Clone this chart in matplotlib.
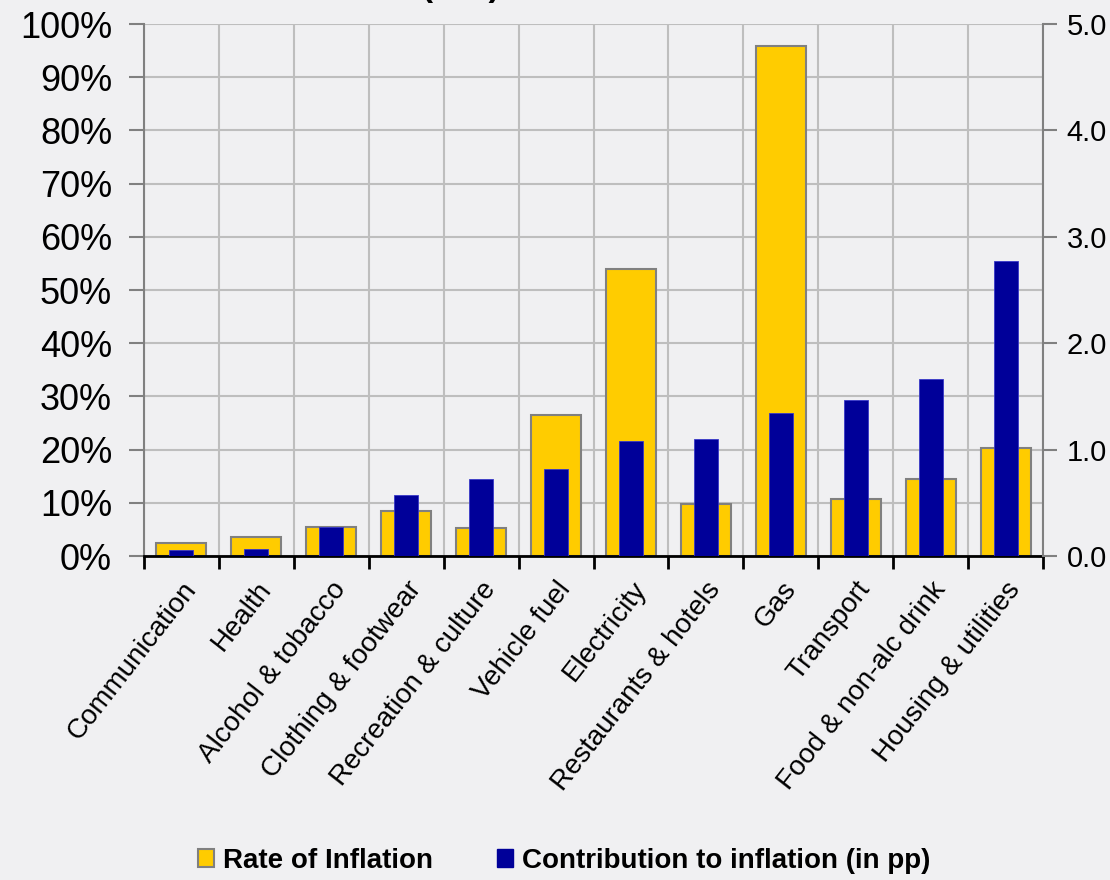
"""
Sector rate of inflation vs contribution to headline CPI inflation.
Twin-axis bar chart: wide yellow bars (rate, left axis) with narrow navy
bars (contribution in pp, right axis) drawn on top.
"""

import matplotlib
matplotlib.use("Agg")
import matplotlib.pyplot as plt
from matplotlib.patches import Patch
from matplotlib.ticker import FuncFormatter
import numpy as np

plt.rcParams.update({
    "font.family": ["Liberation Sans", "DejaVu Sans"],
    "axes.unicode_minus": False,
})

# ================================================================
# Data
# ================================================================
CATEGORIES = [
    "Communication", "Health", "Alcohol & tobacco", "Clothing & footwear",
    "Recreation & culture", "Vehicle fuel", "Electricity",
    "Restaurants & hotels", "Gas", "Transport", "Food & non-alc drink",
    "Housing & utilities",
]
RATE_PCT = [2.4, 3.6, 5.5, 8.5, 5.2, 26.5, 54.0, 9.8, 95.9, 10.7, 14.5, 20.3]
CONTRIB_PP = [0.06, 0.07, 0.27, 0.57, 0.72, 0.82, 1.08, 1.10, 1.34, 1.47, 1.66, 2.77]

LEFT_TICKS = [0, 10, 20, 30, 40, 50, 60, 70, 80, 90, 100]
RIGHT_TICKS = [0.0, 1.0, 2.0, 3.0, 4.0, 5.0]

TITLE = "Annual Rate of Inflation (CPI)"
LEGEND_LABELS = ["Rate of Inflation", "Contribution to inflation (in pp)"]

# ================================================================
# Style
# ================================================================
BG = "#F0F0F2"
YELLOW = "#FFCC00"
NAVY = "#000099"
EDGE = "#808080"
GRID = "#BEBEBE"

fig = plt.figure(figsize=(11.1, 8.8), dpi=100, facecolor=BG)
ax = fig.add_axes([144 / 1110, 1 - 556 / 880, 899 / 1110, 532 / 880])
ax.set_facecolor(BG)
ax2 = ax.twinx()

x = np.arange(len(CATEGORIES))

# yellow rate bars (left axis)
ax.bar(x, RATE_PCT, width=0.667, color=YELLOW, edgecolor=EDGE,
       linewidth=1.5, zorder=2)
# navy contribution bars (right axis)
ax2.bar(x, CONTRIB_PP, width=0.32, color=NAVY, edgecolor="#3838C8",
        linewidth=0.6, zorder=3)

# ---- left axis
ax.set_xlim(-0.5, len(CATEGORIES) - 0.5)
ax.set_ylim(0, 100)
ax.set_yticks(LEFT_TICKS)
ax.yaxis.set_major_formatter(FuncFormatter(lambda v, _: f"{v:.0f}%"))
ax.tick_params(axis="y", labelsize=26, color=EDGE, length=11, width=1.5,
               pad=12, labelcolor="black")

# category boundaries carry the ticks and vertical grid lines
ax.set_xticks(np.arange(-0.5, len(CATEGORIES), 1.0))
ax.set_xticklabels([])
ax.set_xticks(x, minor=True)
ax.set_xticklabels(CATEGORIES, minor=True, rotation=52, ha="right",
                   rotation_mode="anchor", fontsize=20)
ax.tick_params(axis="x", which="major", length=9, width=2, color="black",
               direction="out")
ax.tick_params(axis="x", which="minor", length=0, pad=15)

ax.grid(True, which="major", color=GRID, linewidth=1.5)
ax.set_axisbelow(True)

ax.spines["left"].set_color(EDGE)
ax.spines["left"].set_linewidth(1.5)
ax.spines["top"].set_visible(False)
ax.spines["right"].set_visible(False)
ax.spines["bottom"].set_color("black")
ax.spines["bottom"].set_linewidth(2)

# ---- right axis
ax2.set_ylim(0, 5)
ax2.set_yticks(RIGHT_TICKS)
ax2.yaxis.set_major_formatter(FuncFormatter(lambda v, _: f"{v:.1f}"))
ax2.tick_params(axis="y", labelsize=21, color=EDGE, length=10, width=1.5,
                pad=7, labelcolor="black")
ax2.spines["right"].set_color(EDGE)
ax2.spines["right"].set_linewidth(1.5)
for side in ["left", "top", "bottom"]:
    ax2.spines[side].set_visible(False)

# ---- legend
handles = [
    Patch(facecolor=YELLOW, edgecolor=EDGE, linewidth=1.5),
    Patch(facecolor=NAVY, edgecolor=NAVY),
]
fig.legend(handles, LEGEND_LABELS, loc="center", ncol=2,
           bbox_to_anchor=(0.508, 1 - 861 / 880), frameon=False,
           prop={"family": ["Liberation Sans Narrow", "Liberation Sans"],
                 "weight": "bold", "size": 20},
           handlelength=0.6, handleheight=0.6, handletextpad=0.3,
           columnspacing=2.3)

# ---- title, clipped by the top edge as in the source slide
fig.text(500 / 1110, 1 + 4 / 880, TITLE, ha="right", va="baseline",
         fontsize=24, fontweight="bold")

fig.savefig("out.png", dpi=100, facecolor=BG)
